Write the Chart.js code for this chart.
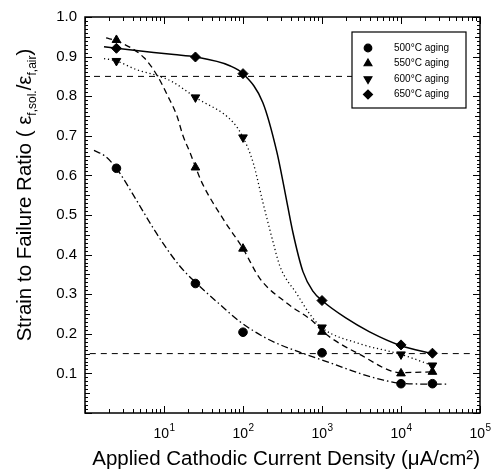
<!DOCTYPE html>
<html>
<head>
<meta charset="utf-8">
<style>
  body { margin: 0; background: #fff; }
</style>
</head>
<body>
<canvas id="grafica" width="497" height="472"></canvas>
<script src="https://cdn.jsdelivr.net/npm/chart.js"></script>
<script>
// puntos medidos (densidad de corriente en uA/cm2)
const xPuntos = [2.5, 25, 100, 1000, 10000, 25000];
const y500 = [0.618, 0.327, 0.204, 0.152, 0.074, 0.074];
const y550 = [0.942, 0.62, 0.415, 0.205, 0.10, 0.104];
const y600 = [0.889, 0.797, 0.696, 0.216, 0.148, 0.12];
const y650 = [0.921, 0.899, 0.857, 0.284, 0.172, 0.151];

// curvas de ajuste
const c500x = [1.3, 1.79, 2.5, 3.1, 3.7, 8.9, 16, 25, 51, 91, 200, 480, 1260, 3000, 6000, 10000, 25000, 38000];
const c500y = [0.663, 0.649, 0.618, 0.59, 0.565, 0.44, 0.37, 0.33, 0.274, 0.231, 0.188, 0.156, 0.127, 0.1, 0.083, 0.075, 0.073, 0.073];
const c550x = [1.85, 2.5, 5.6, 8.2, 11.2, 14.6, 17.4, 21.3, 25, 30, 56, 100, 163, 361, 769, 1000, 3000, 10000, 25000];
const c550y = [0.947, 0.94, 0.897, 0.852, 0.80, 0.75, 0.70, 0.658, 0.622, 0.583, 0.49, 0.415, 0.34, 0.277, 0.231, 0.207, 0.148, 0.102, 0.104];
const c600x = [1.74, 2.5, 4.5, 8.2, 12.6, 25, 75, 100, 134, 178, 240, 294, 483, 705, 1000, 3000, 10000, 25000];
const c600y = [0.895, 0.889, 0.867, 0.852, 0.837, 0.797, 0.734, 0.696, 0.633, 0.533, 0.432, 0.37, 0.30, 0.249, 0.215, 0.175, 0.148, 0.12];
const c650x = [1.74, 2.5, 13.4, 25, 68, 100, 178, 269, 340, 427, 574, 771, 1000, 2000, 4000, 10000, 25000];
const c650y = [0.925, 0.921, 0.905, 0.899, 0.877, 0.857, 0.784, 0.658, 0.558, 0.457, 0.357, 0.307, 0.284, 0.24, 0.205, 0.17, 0.15];

// lineas horizontales de referencia
const refX85 = [1.3, 50000];
const refY85 = [0.85, 0.85];
const refX15 = [1.15, 80000];
const refY15 = [0.15, 0.15];

const series = ["500°C aging", "550°C aging", "600°C aging", "650°C aging"];
const xTicks = [10, 100, 1000, 10000, 100000];
const xTickExp = ["1", "2", "3", "4", "5"];

const pares = (xs, ys) => xs.map((x, i) => ({ x: x, y: ys[i] }));

const estilos = [
  { pointStyle: 'circle', radius: 4.3, rotation: 0, dash: [7, 3, 1.5, 3] },
  { pointStyle: 'triangle', radius: 5, rotation: 0, dash: [6, 4] },
  { pointStyle: 'triangle', radius: 5, rotation: 180, dash: [1.2, 2.8] },
  { pointStyle: 'rectRot', radius: 5, rotation: 0, dash: [] }
];
const puntosY = [y500, y550, y600, y650];
const curvas = [[c500x, c500y], [c550x, c550y], [c600x, c600y], [c650x, c650y]];

const FUENTE = "'Liberation Sans', Arial, sans-serif";
Chart.defaults.font.family = FUENTE;
Chart.defaults.color = '#000';

const datasets = [];
// referencias
datasets.push({ data: pares(refX85, refY85), showLine: true, borderColor: '#000', borderWidth: 1, borderDash: [6, 5], pointRadius: 0 });
datasets.push({ data: pares(refX15, refY15), showLine: true, borderColor: '#000', borderWidth: 1, borderDash: [6, 5], pointRadius: 0 });
// curvas
curvas.forEach((c, i) => {
  datasets.push({
    data: pares(c[0], c[1]),
    showLine: true,
    borderColor: '#000',
    borderWidth: i === 3 ? 1.5 : 1.3,
    borderDash: estilos[i].dash,
    pointRadius: 0,
    cubicInterpolationMode: 'monotone'
  });
});
// marcadores
puntosY.forEach((ys, i) => {
  datasets.push({
    label: series[i],
    data: pares(xPuntos, ys),
    showLine: false,
    pointStyle: estilos[i].pointStyle,
    pointRadius: estilos[i].radius,
    rotation: estilos[i].rotation,
    backgroundColor: '#000',
    borderColor: '#000',
    borderWidth: 1
  });
});

// marco con marcas hacia dentro en los cuatro lados
const marcoPlugin = {
  id: 'marco',
  afterDatasetsDraw(chart) {
    const { ctx, chartArea: a, scales } = chart;
    const sx = scales.x, sy = scales.y;
    ctx.save();
    ctx.strokeStyle = '#000';
    ctx.lineWidth = 1.5;
    ctx.strokeRect(a.left, a.top, a.right - a.left, a.bottom - a.top);
    ctx.lineWidth = 1;
    ctx.beginPath();
    for (let d = 1; d < 100000; d *= 10) {
      for (let k = 1; k <= 10; k++) {
        const px = Math.round(sx.getPixelForValue(d * k)) + 0.5;
        const len = (k === 1 || k === 10) ? 7 : 4;
        ctx.moveTo(px, a.bottom); ctx.lineTo(px, a.bottom - len);
        ctx.moveTo(px, a.top); ctx.lineTo(px, a.top + len);
      }
    }
    for (let i = 0; i <= 100; i++) {
      const py = Math.round(sy.getPixelForValue(i / 100)) + 0.5;
      const len = i % 10 === 0 ? 7 : (i % 5 === 0 ? 5 : 3);
      ctx.moveTo(a.left, py); ctx.lineTo(a.left + len, py);
      ctx.moveTo(a.right, py); ctx.lineTo(a.right - len, py);
    }
    ctx.stroke();

    // etiquetas del eje X: 10 con exponente
    ctx.fillStyle = '#000';
    ctx.textBaseline = 'alphabetic';
    xTicks.forEach((v, i) => {
      const px = sx.getPixelForValue(v);
      ctx.font = '14px ' + FUENTE;
      const wb = ctx.measureText('10').width;
      ctx.font = '10px ' + FUENTE;
      const we = ctx.measureText(xTickExp[i]).width;
      const x0 = px - (wb + we) / 2;
      ctx.font = '14px ' + FUENTE;
      ctx.fillText('10', x0, a.bottom + 25);
      ctx.font = '10px ' + FUENTE;
      ctx.fillText(xTickExp[i], x0 + wb + 0.5, a.bottom + 18);
    });
    ctx.restore();
  }
};

// titulo del eje Y con subindices
const tituloYPlugin = {
  id: 'tituloY',
  afterDraw(chart) {
    const ctx = chart.ctx;
    const partes = [
      ['Strain to Failure Ratio ( ε', 20.5, 0],
      ['f,sol.', 12, 5],
      ['/ε', 20.5, 0],
      ['f,air', 12, 5],
      [')', 20.5, 0]
    ];
    ctx.save();
    ctx.fillStyle = '#000';
    ctx.textBaseline = 'alphabetic';
    let total = 0;
    partes.forEach(p => { ctx.font = p[1] + 'px ' + FUENTE; total += ctx.measureText(p[0]).width; });
    ctx.translate(31, 195);
    ctx.rotate(-Math.PI / 2);
    let x = -total / 2;
    partes.forEach(p => {
      ctx.font = p[1] + 'px ' + FUENTE;
      ctx.fillText(p[0], x, p[2]);
      x += ctx.measureText(p[0]).width;
    });
    ctx.restore();
  }
};

// leyenda en recuadro dentro del area
const leyendaPlugin = {
  id: 'leyendaCaja',
  afterDraw(chart) {
    const ctx = chart.ctx;
    const bx = 352, by = 32, bw = 114, bh = 76;
    ctx.save();
    ctx.fillStyle = '#fff';
    ctx.fillRect(bx, by, bw, bh);
    ctx.strokeStyle = '#000';
    ctx.lineWidth = 1.2;
    ctx.strokeRect(bx, by, bw, bh);
    ctx.font = '10px ' + FUENTE;
    ctx.textBaseline = 'middle';
    series.forEach((s, i) => {
      const yy = by + 16 + i * 15.5;
      ctx.fillStyle = '#000';
      ctx.strokeStyle = '#000';
      Chart.helpers.drawPoint(ctx, { pointStyle: estilos[i].pointStyle, radius: estilos[i].radius - 0.5, rotation: estilos[i].rotation, borderWidth: 1 }, 368, yy);
      ctx.fillText(s, 394, yy);
    });
    ctx.restore();
  }
};

new Chart(document.getElementById('grafica'), {
  type: 'scatter',
  data: { datasets: datasets },
  options: {
    responsive: false,
    animation: false,
    layout: { padding: { top: 14, right: 17, left: 0, bottom: 0 } },
    plugins: {
      legend: { display: false },
      tooltip: { enabled: false }
    },
    scales: {
      x: {
        type: 'logarithmic',
        min: 1,
        max: 100000,
        afterBuildTicks: s => { s.ticks = xTicks.map(v => ({ value: v })); },
        afterFit: s => { s.height = 59; },
        grid: { display: false, drawTicks: false },
        border: { display: false },
        ticks: { display: false },
        title: {
          display: true,
          align: 'end',
          text: 'Applied Cathodic Current Density (μA/cm²)',
          font: { size: 20.5 },
          padding: { top: 0, bottom: 0 }
        }
      },
      y: {
        min: 0,
        max: 1,
        afterFit: s => { s.width = 85; },
        grid: { display: false, drawTicks: false },
        border: { display: false },
        ticks: {
          stepSize: 0.1,
          font: { size: 15 },
          padding: 8,
          callback: v => (Math.abs(v) < 1e-6 ? '' : v.toFixed(1))
        }
      }
    }
  },
  plugins: [marcoPlugin, tituloYPlugin, leyendaPlugin]
});
</script>
</body>
</html>
